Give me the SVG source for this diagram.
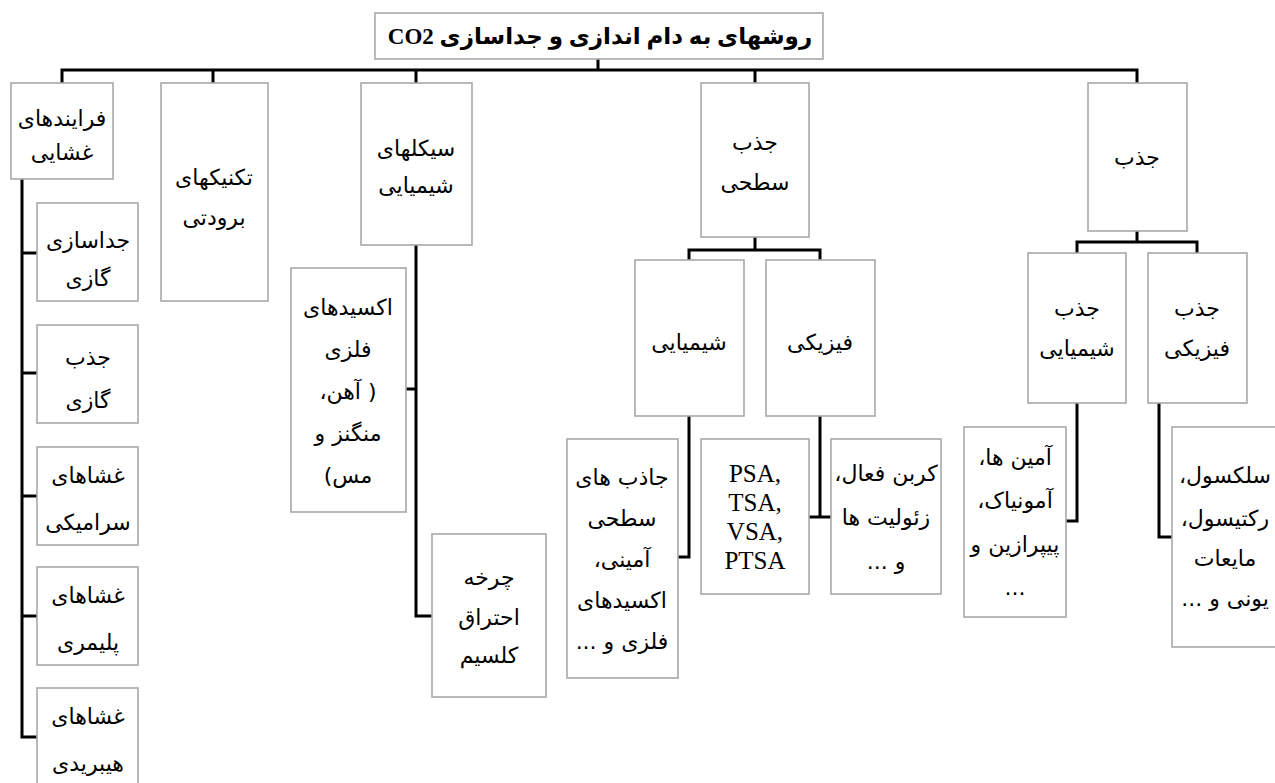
<svg xmlns="http://www.w3.org/2000/svg" width="1275" height="783" viewBox="0 0 1275 783">
<style>
.box{fill:#fff;stroke:#a8a8a8;stroke-width:1.6}
.t{font-family:"DejaVu Sans","Noto Sans",sans-serif;font-size:22px;fill:#000;text-anchor:middle;direction:rtl}
.lat{font-family:"Liberation Serif",serif;font-size:25px;fill:#000;text-anchor:middle}
.ttl{font-family:"Liberation Serif","DejaVu Sans",serif;font-size:23px;font-weight:bold;fill:#000;text-anchor:middle;direction:rtl}
.c{fill:none;stroke:#000;stroke-width:3}
</style>
<rect width="1275" height="783" fill="#fff"/>
<g id="connectors">
<path class="c" d="M598,59V70M62,83V70H1137V83M213,70V83M416,70V83M755,70V83"/>
<path class="c" d="M22,179V737H37M22,253H37M22,373H37M22,496H37M22,616H37"/>
<path class="c" d="M416,245V616H432M416,389H406"/>
<path class="c" d="M755,237V250M689,260V250H820V260"/>
<path class="c" d="M689,416V557H678"/>
<path class="c" d="M820,416V517M809,517H831"/>
<path class="c" d="M1137,231V242M1077,253V242H1197V253"/>
<path class="c" d="M1077,403V521H1066"/>
<path class="c" d="M1159,403V537H1172"/>
</g>
<g id="n-title"><rect class="box" x="375" y="13" width="448" height="46"/><text class="ttl" x="600" y="44">روشهای به دام اندازی و جداسازی CO2</text></g>
<g id="n-farayand"><rect class="box" x="11" y="83" width="102" height="96"/><text class="t" x="62" y="126">فرایندهای</text><text class="t" x="62" y="160">غشایی</text></g>
<g id="n-boroodati"><rect class="box" x="161" y="83" width="107" height="218"/><text class="t" x="214" y="185">تکنیکهای</text><text class="t" x="214" y="225">برودتی</text></g>
<g id="n-siklha"><rect class="box" x="361" y="83" width="111" height="162"/><text class="t" x="416" y="156">سیکلهای</text><text class="t" x="416" y="193">شیمیایی</text></g>
<g id="n-jazb-sathi"><rect class="box" x="701" y="83" width="108" height="154"/><text class="t" x="755" y="150">جذب</text><text class="t" x="755" y="190">سطحی</text></g>
<g id="n-jazb"><rect class="box" x="1088" y="83" width="99" height="148"/><text class="t" x="1137" y="165">جذب</text></g>
<g id="n-jodasazi-gazi"><rect class="box" x="37" y="203" width="101" height="98"/><text class="t" x="88" y="248">جداسازی</text><text class="t" x="88" y="286">گازی</text></g>
<g id="n-jazb-gazi"><rect class="box" x="37" y="325" width="101" height="98"/><text class="t" x="88" y="365">جذب</text><text class="t" x="88" y="408">گازی</text></g>
<g id="n-seramiki"><rect class="box" x="37" y="447" width="101" height="98"/><text class="t" x="88" y="483">غشاهای</text><text class="t" x="88" y="530">سرامیکی</text></g>
<g id="n-polimeri"><rect class="box" x="37" y="567" width="101" height="98"/><text class="t" x="88" y="603">غشاهای</text><text class="t" x="88" y="650">پلیمری</text></g>
<g id="n-hibridi"><rect class="box" x="37" y="688" width="101" height="98"/><text class="t" x="88" y="724">غشاهای</text><text class="t" x="88" y="771">هیبریدی</text></g>
<g id="n-oxid"><rect class="box" x="291" y="268" width="115" height="244"/><text class="t" x="348" y="315">اکسیدهای</text><text class="t" x="348" y="357">فلزی</text><text class="t" x="348" y="399">( آهن،</text><text class="t" x="348" y="441">منگنز و</text><text class="t" x="348" y="483">مس)</text></g>
<g id="n-charkhe"><rect class="box" x="432" y="534" width="114" height="163"/><text class="t" x="489" y="585">چرخه</text><text class="t" x="489" y="625">احتراق</text><text class="t" x="489" y="663">کلسیم</text></g>
<g id="n-shimiyai"><rect class="box" x="635" y="260" width="109" height="156"/><text class="t" x="689" y="350">شیمیایی</text></g>
<g id="n-fiziki"><rect class="box" x="766" y="260" width="109" height="156"/><text class="t" x="820" y="350">فیزیکی</text></g>
<g id="n-jazeb"><rect class="box" x="567" y="439" width="111" height="239"/><text class="t" x="622" y="485">جاذب های</text><text class="t" x="622" y="526">سطحی</text><text class="t" x="622" y="567">آمینی،</text><text class="t" x="622" y="608">اکسیدهای</text><text class="t" x="622" y="649">فلزی و ...</text></g>
<g id="n-psa"><rect class="box" x="701" y="439" width="108" height="155"/><text class="lat" x="755" y="482">PSA,</text><text class="lat" x="755" y="511">TSA,</text><text class="lat" x="755" y="540">VSA,</text><text class="lat" x="755" y="569">PTSA</text></g>
<g id="n-karbon"><rect class="box" x="831" y="439" width="110" height="155"/><text class="t" x="886" y="481">کربن فعال،</text><text class="t" x="886" y="525">زئولیت ها</text><text class="t" x="886" y="569">و ...</text></g>
<g id="n-jazb-shimiyai"><rect class="box" x="1028" y="253" width="98" height="150"/><text class="t" x="1077" y="316">جذب</text><text class="t" x="1077" y="356">شیمیایی</text></g>
<g id="n-jazb-fiziki"><rect class="box" x="1148" y="253" width="99" height="150"/><text class="t" x="1197" y="316">جذب</text><text class="t" x="1197" y="356">فیزیکی</text></g>
<g id="n-amin"><rect class="box" x="964" y="427" width="102" height="190"/><text class="t" x="1015" y="465">آمین ها،</text><text class="t" x="1015" y="508">آمونیاک،</text><text class="t" x="1015" y="552">پیپرازین و</text><text class="t" x="1015" y="595">...</text></g>
<g id="n-selexol"><rect class="box" x="1172" y="427" width="116" height="220"/><text class="t" x="1225" y="483">سلکسول،</text><text class="t" x="1225" y="526">رکتیسول،</text><text class="t" x="1225" y="566">مایعات</text><text class="t" x="1225" y="606">یونی و ...</text></g>
</svg>
